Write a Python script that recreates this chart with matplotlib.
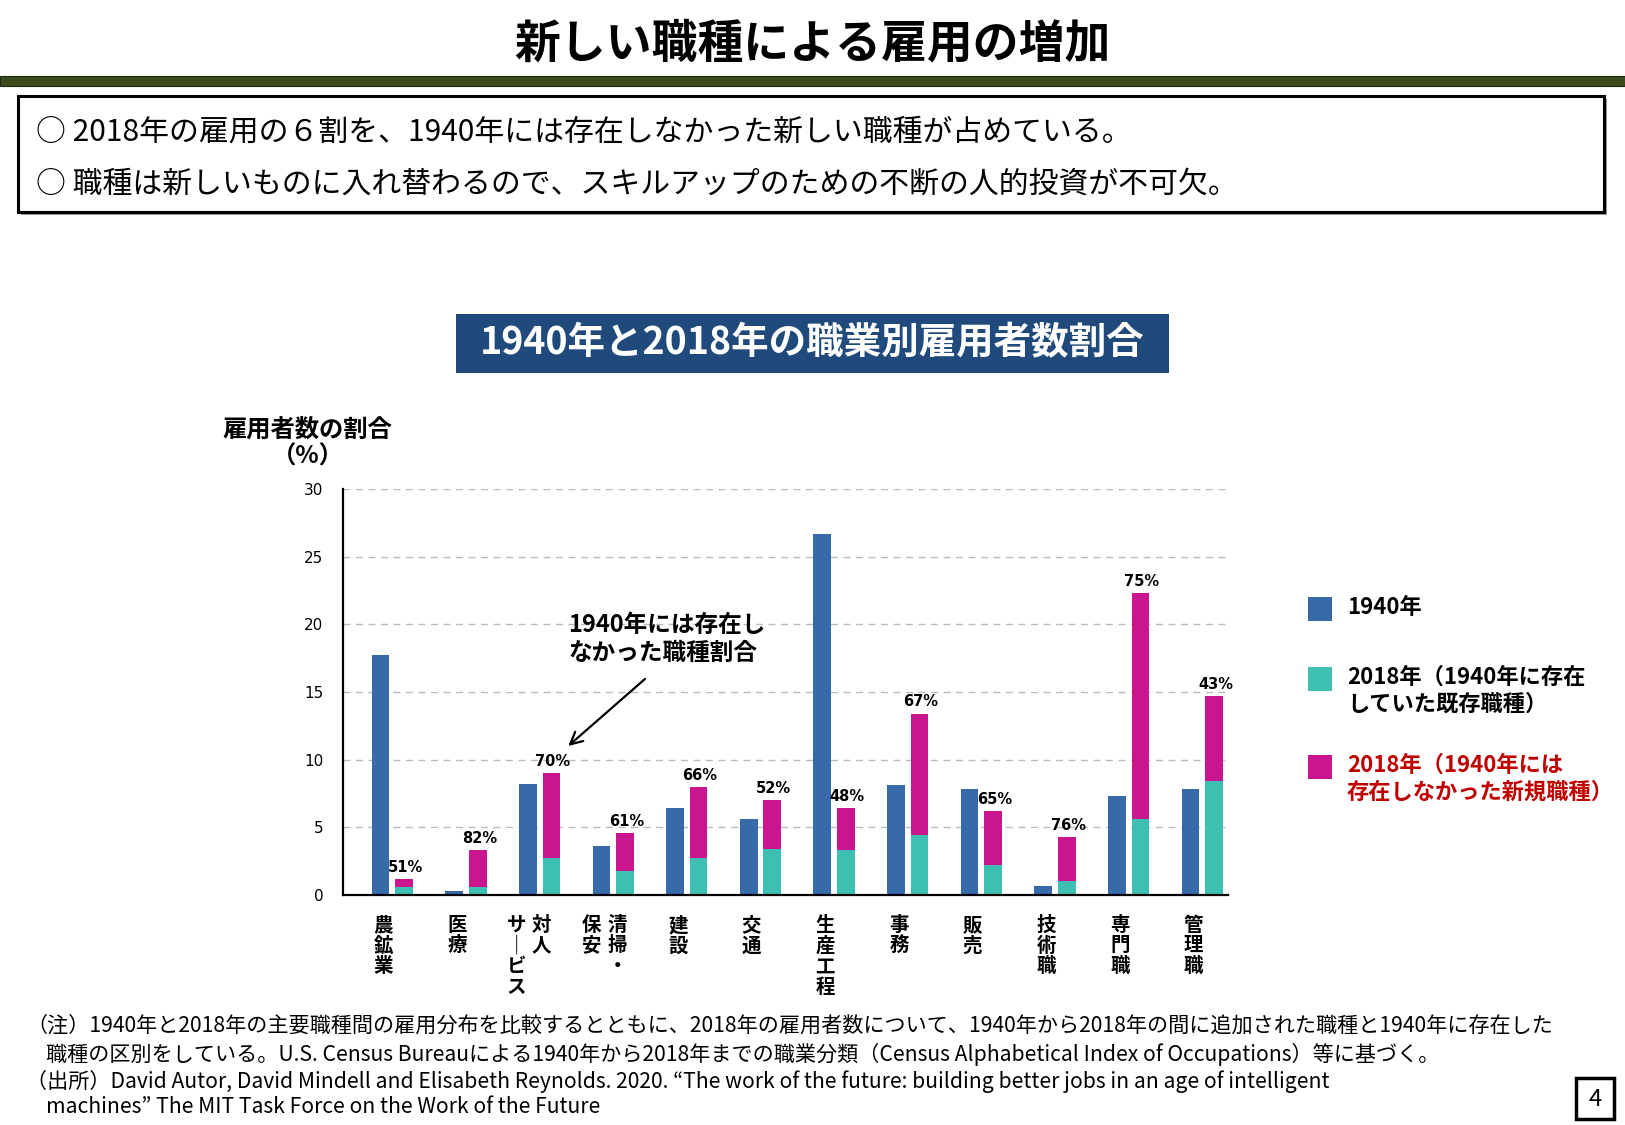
import numpy as np
import matplotlib.pyplot as plt
from matplotlib.patches import Rectangle

plt.rcParams['font.family'] = ['Noto Sans CJK JP', 'DejaVu Sans']

# data (% of employment)
categories = ['農鉱業', '医療', '対人サービス', '清掃・保安', '建設', '交通',
              '生産工程', '事務', '販売', '技術職', '専門職', '管理職']
share_1940 = [17.7, 0.3, 8.2, 3.6, 6.4, 5.6, 26.7, 8.1, 7.8, 0.7, 7.3, 7.8]
share_2018_existing = [0.6, 0.6, 2.7, 1.8, 2.7, 3.4, 3.3, 4.4, 2.2, 1.0, 5.6, 8.4]
share_2018_new = [0.6, 2.7, 6.3, 2.8, 5.3, 3.6, 3.1, 9.0, 4.0, 3.3, 16.7, 6.3]
new_pct_labels = ['51%', '82%', '70%', '61%', '66%', '52%',
                  '48%', '67%', '65%', '76%', '75%', '43%']
y_ticks = [0, 5, 10, 15, 20, 25, 30]

c_1940 = '#386AAA'
c_exist = '#3DBFB2'
c_new = '#C9158E'

W, H = 1625, 1125
fig = plt.figure(figsize=(16.25, 11.25), dpi=100)


def fx(px):
    return px / W


def fy(py):
    return 1 - py / H


# header
fig.text(0.5, fy(44), '新しい職種による雇用の増加', fontsize=33, fontweight='bold',
         ha='center', va='center')
fig.patches.append(Rectangle((0, fy(86)), 1, 10 / H, transform=fig.transFigure,
                             facecolor='#3C4C1F', edgecolor='#1E2610', lw=0.8))

# summary box (with shadow)
fig.patches.append(Rectangle((fx(21), fy(215)), fx(1586), 116 / H, transform=fig.transFigure,
                             facecolor='#999999', edgecolor='none'))
fig.patches.append(Rectangle((fx(18), fy(212)), fx(1586), 116 / H, transform=fig.transFigure,
                             facecolor='white', edgecolor='black', lw=2.2))
fig.text(fx(36), fy(132), '○ 2018年の雇用の６割を、1940年には存在しなかった新しい職種が占めている。',
         fontsize=21.5, va='center')
fig.text(fx(36), fy(184), '○ 職種は新しいものに入れ替わるので、スキルアップのための不断の人的投資が不可欠。',
         fontsize=21.5, va='center')

# chart title box
fig.text(0.5 * (fx(456) + fx(1169)), fy(343), '1940年と2018年の職業別雇用者数割合',
         fontsize=27, fontweight='bold', color='white', ha='center', va='center')
fig.patches.append(Rectangle((fx(456), fy(373)), fx(1169 - 456), 59 / H,
                             transform=fig.transFigure, facecolor='#204A7C',
                             edgecolor='none', zorder=-1))

# main axes
ax = fig.add_axes([fx(343), fy(895), fx(1228 - 343), (895 - 489) / H])
x = np.arange(len(categories))
bw = 0.24
exist = np.array(share_2018_existing)
new = np.array(share_2018_new)
ax.bar(x - 0.16, share_1940, bw, color=c_1940, zorder=3)
ax.bar(x + 0.16, exist, bw, color=c_exist, zorder=3)
ax.bar(x + 0.16, new, bw, bottom=exist, color=c_new, zorder=3)

for xi, tot, lab in zip(x, exist + new, new_pct_labels):
    ax.annotate(lab, (xi + 0.18, tot), xytext=(0, 3), textcoords='offset points',
                ha='center', va='bottom', fontsize=10.5, fontweight='bold',
                family='DejaVu Sans', zorder=4)

ax.set_xlim(-0.67, 11.35)
ax.set_ylim(0, 30)
ax.set_yticks(y_ticks)
ax.set_yticklabels([str(t) for t in y_ticks], family='DejaVu Sans', fontsize=11)
ax.tick_params(axis='y', length=0, pad=14)
ax.set_xticks([])
ax.grid(axis='y', color='#BBBBBB', linestyle=(0, (5, 4)), lw=1, zorder=0)
ax.spines['top'].set_visible(False)
ax.spines['right'].set_visible(False)
for s in ('left', 'bottom'):
    ax.spines[s].set_linewidth(1.6)
    ax.spines[s].set_zorder(5)

# vertical category labels (two columns where the name is long)
columns = {'対人サービス': [('対人', 0.02), ('サ｜ビス', -0.31)],
           '清掃・保安': [('清掃・', 0.06), ('保安', -0.29)]}
for xi, cat in zip(x, categories):
    cols = columns.get(cat, [(cat, -0.12)])
    for txt, dx in cols:
        ax.annotate('\n'.join(txt), (xi + dx, 0), xytext=(0, -15), textcoords='offset points',
                    ha='center', va='top', fontsize=14, fontweight='bold',
                    linespacing=1.1, annotation_clip=False)

ax.text(-1.15, 33.4, '雇用者数の割合\n（%）', fontsize=17.5, fontweight='bold',
        ha='center', va='center', linespacing=1.15)

ax.annotate('', xy=(2.36, 10.87), xytext=(3.46, 16.1),
            arrowprops=dict(arrowstyle='->', lw=1.6, color='black',
                            mutation_scale=22))
ax.text(2.39, 18.9, '1940年には存在し\nなかった職種割合', fontsize=17, fontweight='bold',
        ha='left', va='center', linespacing=1.2)

# legend
legend_items = [
    (609, c_1940, '1940年', 'black'),
    (679, c_exist, '2018年（1940年に存在\nしていた既存職種）', 'black'),
    (767, c_new, '2018年（1940年には\n存在しなかった新規職種）', '#C00000'),
]
for py, col, lab, tcol in legend_items:
    fig.patches.append(Rectangle((fx(1308), fy(py + 12)), fx(24), 24 / H,
                                 transform=fig.transFigure, facecolor=col, edgecolor='none'))
    fig.text(fx(1347), fy(py - 13), lab, fontsize=16, fontweight='bold', color=tcol,
             ha='left', va='top', linespacing=1.2)

# footnotes
notes = [
    (26, 1026, '（注）1940年と2018年の主要職種間の雇用分布を比較するとともに、2018年の雇用者数について、1940年から2018年の間に追加された職種と1940年に存在した'),
    (46, 1054, '職種の区別をしている。U.S. Census Bureauによる1940年から2018年までの職業分類（Census Alphabetical Index of Occupations）等に基づく。'),
    (26, 1081, '（出所）David Autor, David Mindell and Elisabeth Reynolds. 2020. “The work of the future: building better jobs in an age of intelligent'),
    (46, 1107, 'machines” The MIT Task Force on the Work of the Future'),
]
for px, py, t in notes:
    fig.text(fx(px), fy(py), t, fontsize=15.2, ha='left', va='center')

# page number
fig.patches.append(Rectangle((fx(1576), fy(1119)), fx(38), 41 / H, transform=fig.transFigure,
                             facecolor='white', edgecolor='black', lw=2.5))
fig.text(fx(1595), fy(1099), '4', fontsize=17, ha='center', va='center')

fig.savefig('out.png', dpi=100, facecolor='white')
